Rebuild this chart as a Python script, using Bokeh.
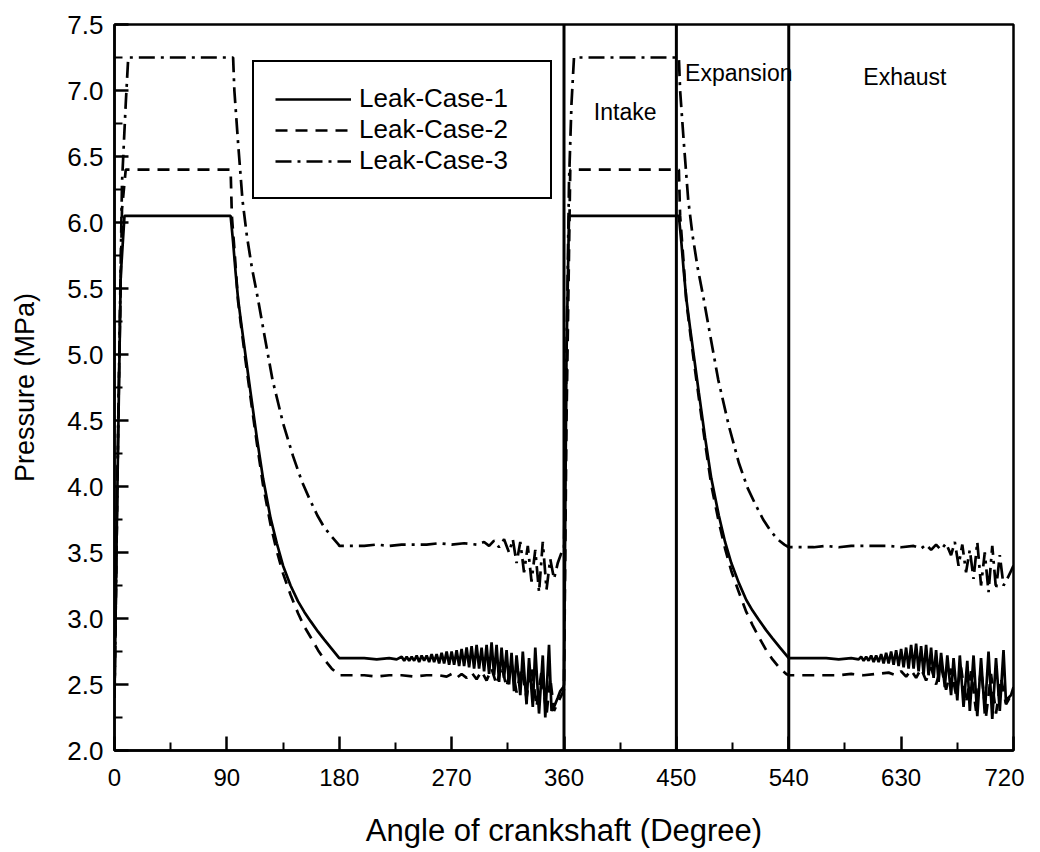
from bokeh.plotting import figure
from bokeh.models import Span, Legend, LegendItem, FixedTicker, PrintfTickFormatter
from bokeh.embed import file_html
from bokeh.resources import INLINE
from bokeh.core.properties import value

# ---------------- data (angle in degrees, pressure in MPa) ----------------
x_ticks = [0, 90, 180, 270, 360, 450, 540, 630, 720]
x_minor = [45, 135, 225, 315, 405, 495, 585, 675]
y_ticks = [2.0, 2.5, 3.0, 3.5, 4.0, 4.5, 5.0, 5.5, 6.0, 6.5, 7.0, 7.5]
y_minor = [2.25, 2.75, 3.25, 3.75, 4.25, 4.75, 5.25, 5.75, 6.25, 6.75, 7.25]

phase_bounds = [360, 450, 540]
phase_names = ["Intake", "Expansion", "Exhaust"]
phase_x = [409, 500, 633]
phase_y = [6.835, 7.13, 7.10]

series_names = ["Leak-Case-1", "Leak-Case-2", "Leak-Case-3"]

case1_points = [
    (0, 2.40), (2, 3.80), (5, 5.60), (8, 6.05), (93, 6.05), (95, 5.85), (97, 5.62),
    (99, 5.42), (102, 5.20), (105, 4.99), (109, 4.71), (114, 4.37), (119, 4.06),
    (125, 3.76), (130, 3.57), (135, 3.40), (141, 3.25), (147, 3.13), (152, 3.05),
    (157, 2.98), (163, 2.90), (168, 2.84), (174, 2.77), (180, 2.70),
    (190, 2.70), (200, 2.70), (210, 2.69), (220, 2.70), (226, 2.69),
    (230, 2.71), (232, 2.68), (234, 2.71), (236, 2.68), (238, 2.71), (240, 2.68),
    (242, 2.72), (244, 2.67), (246, 2.72), (248, 2.68), (250, 2.72), (252, 2.67),
    (254, 2.73), (256, 2.67), (258, 2.73), (260, 2.66), (262, 2.74), (264, 2.66),
    (266, 2.75), (268, 2.65), (270, 2.75), (272, 2.65), (274, 2.76), (276, 2.64),
    (278, 2.77), (280, 2.64), (282, 2.78), (284, 2.63), (286, 2.79), (288, 2.62),
    (290, 2.80), (292, 2.62), (294, 2.78), (296, 2.60), (298, 2.80), (300, 2.58),
    (302, 2.82), (304, 2.57), (306, 2.80), (308, 2.52), (310, 2.78), (312, 2.55),
    (314, 2.76), (316, 2.50), (318, 2.74), (320, 2.45), (322, 2.72), (325, 2.42),
    (327, 2.75), (330, 2.35), (332, 2.70), (335, 2.33), (337, 2.78), (340, 2.28),
    (343, 2.72), (345, 2.25), (348, 2.80), (350, 2.30), (352, 2.33), (355, 2.40),
    (357, 2.45), (359.5, 2.48),
    (360, 2.50), (362, 5.00), (364, 6.05), (452, 6.05), (454, 5.85), (456, 5.62),
    (458, 5.42), (461, 5.20), (464, 4.99), (468, 4.71), (473, 4.37), (478, 4.06),
    (484, 3.78), (489, 3.58), (494, 3.42), (500, 3.27), (506, 3.14), (511, 3.06),
    (516, 2.99), (522, 2.91), (527, 2.85), (533, 2.78), (540, 2.70),
    (550, 2.70), (560, 2.70), (570, 2.70), (580, 2.69), (590, 2.70), (596, 2.69),
    (598, 2.71), (600, 2.68), (602, 2.71), (604, 2.68), (606, 2.72), (608, 2.67),
    (610, 2.72), (612, 2.67), (614, 2.73), (616, 2.66), (618, 2.74), (620, 2.66),
    (622, 2.75), (624, 2.65), (626, 2.76), (628, 2.64), (630, 2.77), (632, 2.63),
    (634, 2.78), (636, 2.62), (638, 2.80), (640, 2.62), (642, 2.81), (644, 2.60),
    (646, 2.79), (648, 2.58), (650, 2.80), (652, 2.57), (654, 2.78), (656, 2.55),
    (658, 2.76), (660, 2.52), (662, 2.74), (665, 2.48), (667, 2.72), (670, 2.42),
    (672, 2.70), (675, 2.38), (677, 2.72), (680, 2.33), (683, 2.68), (685, 2.30),
    (688, 2.72), (691, 2.26), (694, 2.70), (697, 2.28), (700, 2.75), (703, 2.24),
    (706, 2.70), (709, 2.30), (712, 2.76), (714, 2.36), (716, 2.40), (718, 2.42),
    (720, 2.48),
]

case2_points = [
    (0, 2.40), (3, 4.50), (6, 6.10), (9, 6.40), (93, 6.40), (94, 6.05), (96, 5.80),
    (99, 5.40), (102, 5.17), (105, 4.95), (109, 4.67), (114, 4.33), (119, 4.01),
    (125, 3.71), (130, 3.51), (135, 3.34), (141, 3.18), (147, 3.04), (152, 2.94),
    (157, 2.86), (163, 2.76), (168, 2.69), (174, 2.62), (179, 2.58), (180, 2.57),
    (190, 2.57), (200, 2.57), (210, 2.56), (220, 2.57), (230, 2.57), (240, 2.56),
    (250, 2.57), (260, 2.57), (266, 2.56), (270, 2.58), (274, 2.55), (278, 2.58),
    (282, 2.55), (286, 2.59), (290, 2.54), (294, 2.60), (298, 2.53), (302, 2.62),
    (306, 2.50), (310, 2.64), (314, 2.48), (318, 2.66), (322, 2.44), (326, 2.62),
    (330, 2.40), (334, 2.64), (338, 2.33), (342, 2.60), (346, 2.27), (349, 2.55),
    (352, 2.30), (355, 2.36), (358, 2.42), (360, 2.46),
    (362, 4.50), (365, 6.40), (452, 6.40), (453, 6.05), (455, 5.80), (458, 5.40),
    (461, 5.17), (464, 4.95), (468, 4.67), (473, 4.33), (478, 4.01), (484, 3.73),
    (489, 3.53), (494, 3.36), (500, 3.20), (506, 3.05), (511, 2.95), (516, 2.86),
    (522, 2.76), (527, 2.69), (533, 2.62), (538, 2.58), (540, 2.57),
    (550, 2.57), (560, 2.57), (570, 2.57), (580, 2.57), (590, 2.58), (600, 2.57),
    (610, 2.58), (620, 2.59), (626, 2.57), (630, 2.60), (634, 2.56), (638, 2.61),
    (642, 2.55), (646, 2.62), (650, 2.53), (654, 2.63), (658, 2.50), (662, 2.64),
    (666, 2.46), (670, 2.62), (674, 2.42), (678, 2.63), (682, 2.36), (686, 2.60),
    (690, 2.30), (694, 2.62), (698, 2.26), (702, 2.58), (706, 2.28), (710, 2.55),
    (714, 2.35), (717, 2.40), (720, 2.45),
]

case3_points = [
    (0, 2.40), (3, 4.50), (6, 6.30), (9, 6.90), (11, 7.25), (95, 7.25), (96, 7.00),
    (99, 6.60), (102.5, 6.17), (106, 5.90), (110, 5.66), (114.5, 5.44), (120, 5.15),
    (126.5, 4.81), (135, 4.48), (143, 4.23), (150, 4.04), (156, 3.91), (162.5, 3.78),
    (168, 3.69), (174, 3.62), (179.5, 3.56), (180, 3.55),
    (190, 3.55), (200, 3.55), (210, 3.56), (220, 3.55), (230, 3.56), (240, 3.56),
    (250, 3.56), (260, 3.57), (270, 3.56), (280, 3.57), (290, 3.56), (296, 3.58),
    (300, 3.55), (304, 3.59), (308, 3.54), (312, 3.60), (316, 3.50), (319, 3.60),
    (322, 3.42), (325, 3.58), (328, 3.35), (331, 3.55), (334, 3.28), (337, 3.52),
    (340, 3.20), (343, 3.58), (346, 3.22), (349, 3.45), (352, 3.30), (355, 3.42),
    (358, 3.50), (360, 3.52),
    (362, 5.00), (364, 6.30), (366, 6.90), (368, 7.25), (452, 7.25), (453, 7.00),
    (456, 6.60), (459.5, 6.17), (463, 5.90), (467, 5.66), (471.5, 5.44), (477, 5.15),
    (483.5, 4.81), (492, 4.46), (500, 4.18), (507, 3.99), (513, 3.87), (519.5, 3.75),
    (525, 3.67), (531, 3.60), (536.5, 3.56), (540, 3.54),
    (550, 3.54), (560, 3.54), (570, 3.55), (580, 3.54), (590, 3.55), (600, 3.55),
    (610, 3.55), (620, 3.55), (630, 3.54), (640, 3.55), (646, 3.53), (650, 3.56),
    (654, 3.52), (658, 3.56), (662, 3.52), (666, 3.57), (670, 3.48), (673, 3.58),
    (676, 3.40), (679, 3.56), (682, 3.35), (685, 3.52), (688, 3.30), (691, 3.58),
    (694, 3.25), (697, 3.50), (700, 3.20), (703, 3.55), (706, 3.22), (709, 3.48),
    (712, 3.25), (715, 3.30), (718, 3.36), (720, 3.40),
]

case1_x = [a for a, _ in case1_points]
case1_y = [b for _, b in case1_points]
case2_x = [a for a, _ in case2_points]
case2_y = [b for _, b in case2_points]
case3_x = [a for a, _ in case3_points]
case3_y = [b for _, b in case3_points]

# ---------------- figure ----------------
FONT = "Liberation Sans"

p = figure(width=1024, height=850, x_range=(0, 720), y_range=(2.0, 7.5),
           output_backend="svg", toolbar_location=None,
           min_border_left=114, min_border_right=11, min_border_top=24,
           min_border_bottom=98)
p.background_fill_color = "white"
p.border_fill_color = "white"
p.outline_line_color = "black"
p.outline_line_width = 2.5
p.outline_line_alpha = 1.0
p.xgrid.visible = False
p.ygrid.visible = False

p.xaxis.ticker = FixedTicker(ticks=x_ticks, minor_ticks=x_minor)
p.yaxis.ticker = FixedTicker(ticks=y_ticks, minor_ticks=y_minor)
p.yaxis.formatter = PrintfTickFormatter(format="%.1f")

for ax in (p.xaxis[0], p.yaxis[0]):
    ax.axis_line_width = 2.5
    ax.axis_line_color = "black"
    ax.major_tick_in = 14
    ax.major_tick_out = 0
    ax.minor_tick_in = 8
    ax.minor_tick_out = 0
    ax.major_tick_line_width = 2.5
    ax.minor_tick_line_width = 2
    ax.major_tick_line_color = "black"
    ax.minor_tick_line_color = "black"
    ax.major_label_text_font = FONT
    ax.major_label_text_color = "black"
    ax.axis_label_text_font = FONT
    ax.axis_label_text_font_style = "normal"
    ax.axis_label_text_color = "black"

p.xaxis.axis_label = "Angle of crankshaft (Degree)"
p.yaxis.axis_label = "Pressure (MPa)"
p.xaxis.axis_label_text_font_size = "31px"
p.yaxis.axis_label_text_font_size = "27px"
p.xaxis.major_label_text_font_size = "24px"
p.yaxis.major_label_text_font_size = "26px"
p.xaxis.major_label_standoff = 18
p.yaxis.major_label_standoff = 11
p.xaxis.axis_label_standoff = 24
p.yaxis.axis_label_standoff = 24

r1 = p.line(case1_x, case1_y, line_color="black", line_width=2.7)
r2 = p.line(case2_x, case2_y, line_color="black", line_width=2.7, line_dash="12 8")
r3 = p.line(case3_x, case3_y, line_color="black", line_width=2.7, line_dash="16 6 3 6")

for b in phase_bounds:
    p.add_layout(Span(location=b, dimension="height", line_color="black", line_width=3))

p.text(x=phase_x, y=phase_y, text=phase_names, text_font=value(FONT),
       text_font_size=value("23px"), text_align="center", text_baseline="middle",
       text_color="black")

legend = Legend(items=[LegendItem(label=series_names[0], renderers=[r1]),
                       LegendItem(label=series_names[1], renderers=[r2]),
                       LegendItem(label=series_names[2], renderers=[r3])],
                location=(138, 551))
legend.label_text_font = FONT
legend.label_text_font_size = "26px"
legend.label_text_color = "black"
legend.glyph_width = 76
legend.glyph_height = 28
legend.label_height = 28
legend.label_width = 170
legend.label_standoff = 8
legend.spacing = 0
legend.padding = 21
legend.margin = 0
legend.border_line_color = "black"
legend.border_line_alpha = 1.0
legend.border_line_width = 2.5
legend.background_fill_alpha = 1.0
p.add_layout(legend)

open("out.html", "w").write(file_html(p, INLINE))
